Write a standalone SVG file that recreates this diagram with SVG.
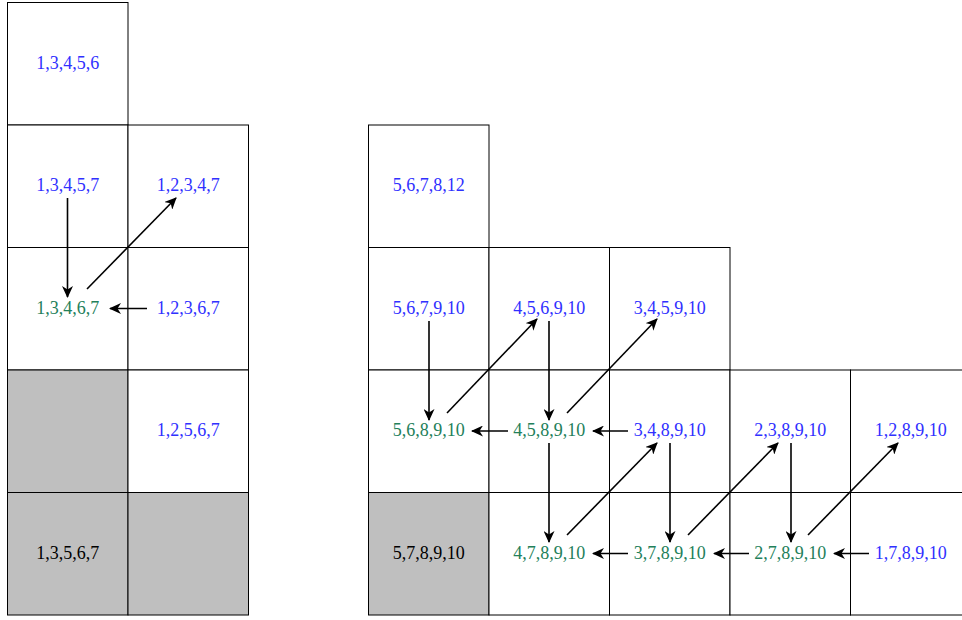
<svg xmlns="http://www.w3.org/2000/svg" width="962" height="620" viewBox="0 0 962 620">
<defs>
<style>
.c{fill:#fff;stroke:#000;stroke-width:1}
.g{fill:#bfbfbf;stroke:#000;stroke-width:1}
text{font-family:"Liberation Serif","DejaVu Serif",serif;font-size:18px;text-anchor:middle}
.b{fill:#3030ff}
.n{fill:#23805a}
.k{fill:#000}
.a{stroke:#000;stroke-width:1.6;fill:none;marker-end:url(#ah)}
</style>
<marker id="ah" viewBox="0 0 12 11" refX="11" refY="5.5" markerWidth="12" markerHeight="11" markerUnits="userSpaceOnUse" orient="auto">
<path d="M0,0 L12,5.5 L0,11 L3.5,5.5 Z" fill="#000"/>
</marker>
</defs>
<g id="left">
<g id="L1"><rect class="c" x="7.5" y="2.5" width="120.5" height="122.5"/><text class="b" x="67.75" y="69">1,3,4,5,6</text></g>
<g id="L2"><rect class="c" x="7.5" y="125" width="120.5" height="122.5"/><text class="b" x="67.75" y="191">1,3,4,5,7</text></g>
<g id="L3"><rect class="c" x="128" y="125" width="120.5" height="122.5"/><text class="b" x="188.25" y="191">1,2,3,4,7</text></g>
<g id="L4"><rect class="c" x="7.5" y="247.5" width="120.5" height="122.5"/><text class="n" x="67.75" y="314">1,3,4,6,7</text></g>
<g id="L5"><rect class="c" x="128" y="247.5" width="120.5" height="122.5"/><text class="b" x="188.25" y="314">1,2,3,6,7</text></g>
<g id="L6"><rect class="g" x="7.5" y="370" width="120.5" height="122.5"/></g>
<g id="L7"><rect class="c" x="128" y="370" width="120.5" height="122.5"/><text class="b" x="188.25" y="436">1,2,5,6,7</text></g>
<g id="L8"><rect class="g" x="7.5" y="492.5" width="120.5" height="122.5"/><text class="k" x="67.75" y="558.5">1,3,5,6,7</text></g>
<g id="L9"><rect class="g" x="128" y="492.5" width="120.5" height="122.5"/></g>
</g>
<g id="right">
<g id="R1"><rect class="c" x="368.5" y="125" width="120.5" height="122.5"/><text class="b" x="428.75" y="191">5,6,7,8,12</text></g>
<g id="R2"><rect class="c" x="368.5" y="247.5" width="120.5" height="122.5"/><text class="b" x="428.75" y="314">5,6,7,9,10</text></g>
<g id="R3"><rect class="c" x="489" y="247.5" width="120.5" height="122.5"/><text class="b" x="549.25" y="314">4,5,6,9,10</text></g>
<g id="R4"><rect class="c" x="609.5" y="247.5" width="120.5" height="122.5"/><text class="b" x="669.75" y="314">3,4,5,9,10</text></g>
<g id="R5"><rect class="c" x="368.5" y="370" width="120.5" height="122.5"/><text class="n" x="428.75" y="436">5,6,8,9,10</text></g>
<g id="R6"><rect class="c" x="489" y="370" width="120.5" height="122.5"/><text class="n" x="549.25" y="436">4,5,8,9,10</text></g>
<g id="R7"><rect class="c" x="609.5" y="370" width="120.5" height="122.5"/><text class="b" x="669.75" y="436">3,4,8,9,10</text></g>
<g id="R8"><rect class="c" x="730" y="370" width="120.5" height="122.5"/><text class="b" x="790.25" y="436">2,3,8,9,10</text></g>
<g id="R9"><rect class="c" x="850.5" y="370" width="120.5" height="122.5"/><text class="b" x="910.75" y="436">1,2,8,9,10</text></g>
<g id="R10"><rect class="g" x="368.5" y="492.5" width="120.5" height="122.5"/><text class="k" x="428.75" y="558.5">5,7,8,9,10</text></g>
<g id="R11"><rect class="c" x="489" y="492.5" width="120.5" height="122.5"/><text class="n" x="549.25" y="558.5">4,7,8,9,10</text></g>
<g id="R12"><rect class="c" x="609.5" y="492.5" width="120.5" height="122.5"/><text class="n" x="669.75" y="558.5">3,7,8,9,10</text></g>
<g id="R13"><rect class="c" x="730" y="492.5" width="120.5" height="122.5"/><text class="n" x="790.25" y="558.5">2,7,8,9,10</text></g>
<g id="R14"><rect class="c" x="850.5" y="492.5" width="120.5" height="122.5"/><text class="b" x="910.75" y="558.5">1,7,8,9,10</text></g>
</g>
<g id="connectors">
<line class="a" x1="67.5" y1="198" x2="67.5" y2="297"/>
<line class="a" x1="87" y1="289" x2="176" y2="198"/>
<line class="a" x1="147" y1="308.5" x2="110" y2="308.5"/>
<line class="a" x1="429" y1="321" x2="429" y2="420"/>
<line class="a" x1="447" y1="413" x2="537" y2="319"/>
<line class="a" x1="549" y1="321" x2="549" y2="420"/>
<line class="a" x1="567" y1="413" x2="657" y2="319"/>
<line class="a" x1="508" y1="431" x2="472" y2="431"/>
<line class="a" x1="628" y1="431" x2="593" y2="431"/>
<line class="a" x1="549" y1="443" x2="549" y2="542"/>
<line class="a" x1="567" y1="535" x2="657" y2="443"/>
<line class="a" x1="670" y1="443" x2="670" y2="542"/>
<line class="a" x1="628" y1="553.5" x2="593" y2="553.5"/>
<line class="a" x1="688" y1="535" x2="778" y2="443"/>
<line class="a" x1="791" y1="443" x2="791" y2="542"/>
<line class="a" x1="749" y1="553.5" x2="714" y2="553.5"/>
<line class="a" x1="808" y1="535" x2="898" y2="443"/>
<line class="a" x1="869" y1="553.5" x2="834" y2="553.5"/>
</g>
</svg>
